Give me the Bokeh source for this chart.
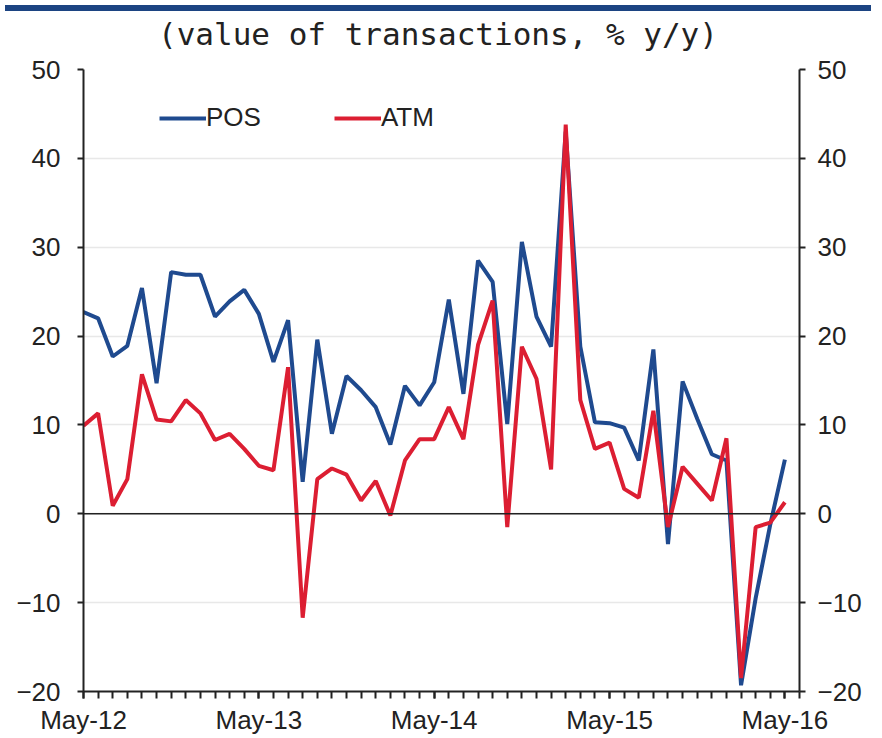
from bokeh.plotting import figure
from bokeh.models import (Range1d, LinearAxis, FixedTicker, Span, Legend, LegendItem, Div)
from bokeh.layouts import column
from bokeh.embed import file_html
from bokeh.resources import INLINE

months = list(range(49))
tick_months = [0, 12, 24, 36, 48]
tick_labels = ["May-12", "May-13", "May-14", "May-15", "May-16"]
title_text = "(value of transactions, % y/y)"

pos = [22.7, 22.0, 17.7, 18.9, 25.4, 14.7, 27.2, 26.9, 26.9, 22.2, 23.9, 25.2,
       22.5, 17.1, 21.8, 3.6, 19.6, 9.0, 15.5, 13.9, 12.0, 7.8, 14.4, 12.2,
       14.8, 24.1, 13.5, 28.5, 26.1, 10.1, 30.6, 22.2, 18.8, 43.0, 18.8, 10.3,
       10.2, 9.7, 6.0, 18.5, -3.4, 14.9, 10.7, 6.7, 6.0, -19.3, -9.5, -1.2, 6.1]
atm = [9.9, 11.3, 0.9, 3.9, 15.7, 10.6, 10.4, 12.8, 11.3, 8.3, 9.0, 7.3,
       5.4, 4.9, 16.5, -11.7, 3.9, 5.1, 4.4, 1.5, 3.7, -0.2, 6.0, 8.4,
       8.4, 12.0, 8.4, 19.0, 24.0, -1.5, 18.8, 15.2, 5.0, 43.8, 12.8, 7.3,
       8.0, 2.8, 1.8, 11.6, -1.5, 5.3, 3.4, 1.5, 8.5, -18.5, -1.5, -1.0, 1.3]

BLUE = "#1f4a8f"
RED = "#dc1e32"
FONT = "Liberation Sans"

p = figure(width=866, height=684, output_backend="svg", toolbar_location=None,
           x_range=Range1d(0, 49), y_range=Range1d(-20, 50),
           min_border_left=83, min_border_right=67, min_border_top=16,
           min_border_bottom=46)
p.outline_line_color = None
p.background_fill_color = "white"

# axes
xa = p.xaxis[0]
xa.ticker = FixedTicker(ticks=tick_months, minor_ticks=list(range(50)))
xa.major_label_overrides = {m: l for m, l in zip(tick_months, tick_labels)}
xa.major_label_text_font = FONT
xa.major_label_text_font_size = "26px"
xa.major_label_text_color = "#222222"
xa.major_tick_out = 7
xa.major_tick_in = 0
xa.minor_tick_out = 7
xa.minor_tick_in = 0
xa.major_label_standoff = 6
xa.axis_line_width = 2
xa.axis_line_color = "#222222"
xa.major_tick_line_width = 2
xa.minor_tick_line_width = 2
xa.major_tick_line_color = "#222222"
xa.minor_tick_line_color = "#222222"

ya = p.yaxis[0]
ry = LinearAxis()
p.add_layout(ry, "right")
for a, so in [(ya, 17), (ry, 12)]:
    a.ticker = FixedTicker(ticks=list(range(-20, 51, 10)))
    a.minor_tick_line_color = None
    a.major_tick_out = 6
    a.major_tick_in = 0
    a.major_label_standoff = so
    a.major_label_text_font = FONT
    a.major_label_text_font_size = "26px"
    a.major_label_text_color = "#222222"
    a.axis_line_width = 2
    a.axis_line_color = "#222222"
    a.major_tick_line_width = 2
    a.major_tick_line_color = "#222222"

p.xgrid.grid_line_color = None
p.ygrid.grid_line_color = "#e8e8e8"
p.ygrid.grid_line_width = 1.5
p.ygrid.ticker = FixedTicker(ticks=list(range(-20, 51, 10)))

p.add_layout(Span(location=0, dimension="width", line_color="#222222", line_width=1.5))

r_pos = p.line(months, pos, line_color=BLUE, line_width=4)
r_atm = p.line(months, atm, line_color=RED, line_width=4)

legend = Legend(items=[LegendItem(label="POS", renderers=[r_pos]),
                       LegendItem(label="ATM", renderers=[r_atm])],
                orientation="horizontal", location=(76, 558),
                glyph_width=47, glyph_height=30, label_height=30,
                label_standoff=0, spacing=73, padding=0, margin=0,
                border_line_color=None, background_fill_alpha=0,
                label_text_font=FONT, label_text_font_size="26px",
                label_text_color="#222222")
p.add_layout(legend)

band = Div(width=866, height=6, styles={"background-color": "#1c4482"})
title = Div(text=title_text, width=866, height=27,
            styles={"font-family": "DejaVu Sans Mono", "font-size": "31px",
                    "text-align": "center", "line-height": "27px",
                    "color": "#222222", "white-space": "pre"})
layout = column(band, title, p, spacing=0)

open("out.html", "w").write(file_html(layout, INLINE))
